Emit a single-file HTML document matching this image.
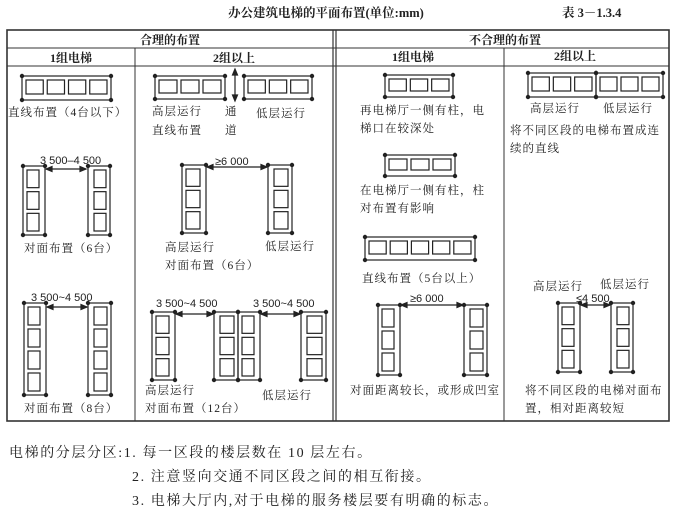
<!DOCTYPE html>
<html><head><meta charset="utf-8">
<style>
html,body{margin:0;padding:0;background:#fff;}
svg{display:block;}
text{font-family:"Liberation Serif","Noto Serif CJK SC","Noto Sans CJK SC",serif;fill:#222;}
.s{font-size:11.5px;letter-spacing:1px;}
.h{font-size:12px;font-weight:bold;}
.d{font-family:"Liberation Sans",sans-serif;font-size:11px;}
.b{font-size:14px;letter-spacing:1.6px;}
</style></head>
<body>
<svg id="g" width="678" height="521" viewBox="0 0 678 521" xmlns="http://www.w3.org/2000/svg">
<rect width="678" height="521" fill="#fff"/>
<text x="228" y="17" class="h" style="font-size:12.5px">办公建筑电梯的平面布置(单位:mm)</text>
<text x="562" y="17" style="font-size:12.5px;font-weight:bold">表 3－1.3.4</text>
<g stroke="#333" fill="none">
<rect x="7" y="30" width="662" height="391" stroke-width="1.6"/>
<line x1="333" y1="30" x2="333" y2="421" stroke-width="1.2"/>
<line x1="336" y1="30" x2="336" y2="421" stroke-width="1.2"/>
<line x1="7" y1="48" x2="669" y2="48"/>
<line x1="7" y1="66" x2="669" y2="66"/>
<line x1="135" y1="48" x2="135" y2="421"/>
<line x1="504" y1="48" x2="504" y2="421"/>
</g>
<text x="170" y="44" class="h" text-anchor="middle">合理的布置</text>
<text x="505" y="44" class="h" text-anchor="middle">不合理的布置</text>
<text x="71" y="62" class="h" text-anchor="middle">1组电梯</text>
<text x="234" y="62" class="h" text-anchor="middle">2组以上</text>
<text x="413" y="61" class="h" text-anchor="middle">1组电梯</text>
<text x="575" y="60" class="h" text-anchor="middle">2组以上</text>

<text x="8" y="116" class="s">直线布置（4台以下）</text>
<text x="152" y="115" class="s">高层运行</text>
<text x="152" y="134" class="s">直线布置</text>
<text x="225" y="115" class="s">通</text>
<text x="225" y="134" class="s">道</text>
<text x="256" y="117" class="s">低层运行</text>
<text x="40" y="164" class="d">3 500–4 500</text>
<text x="24" y="252" class="s">对面布置（6台）</text>
<text x="215" y="165" class="d">≥6 000</text>
<text x="165" y="251" class="s">高层运行</text>
<text x="265" y="250" class="s">低层运行</text>
<text x="165" y="269" class="s">对面布置（6台）</text>
<text x="31" y="301" class="d">3 500~4 500</text>
<text x="24" y="412" class="s">对面布置（8台）</text>
<text x="156" y="307" class="d">3 500~4 500</text>
<text x="253" y="307" class="d">3 500~4 500</text>
<text x="145" y="394" class="s">高层运行</text>
<text x="262" y="399" class="s">低层运行</text>
<text x="145" y="412" class="s">对面布置（12台）</text>

<text x="360" y="114" class="s">再电梯厅一侧有柱，电</text>
<text x="360" y="132" class="s">梯口在较深处</text>
<text x="360" y="194" class="s">在电梯厅一侧有柱，柱</text>
<text x="360" y="212" class="s">对布置有影响</text>
<text x="362" y="282" class="s">直线布置（5台以上）</text>
<text x="410" y="302" class="d">≥6 000</text>
<text x="350" y="394" class="s">对面距离较长，或形成凹室</text>
<text x="530" y="112" class="s">高层运行</text>
<text x="603" y="112" class="s">低层运行</text>
<text x="510" y="134" class="s">将不同区段的电梯布置成连</text>
<text x="510" y="152" class="s">续的直线</text>
<text x="533" y="290" class="s">高层运行</text>
<text x="600" y="288" class="s">低层运行</text>
<text x="576" y="302" class="d">≤4 500</text>
<text x="525" y="394" class="s">将不同区段的电梯对面布</text>
<text x="525" y="412" class="s">置，相对距离较短</text>

<text x="9" y="457" class="b">电梯的分层分区:1. 每一区段的楼层数在 10 层左右。</text>
<text x="132" y="481" class="b">2. 注意竖向交通不同区段之间的相互衔接。</text>
<text x="132" y="505" class="b">3. 电梯大厅内,对于电梯的服务楼层要有明确的标志。</text>
<g id="shapes" stroke="#222" fill="none" stroke-width="1.2"></g>
</svg>
<script>
var G=document.getElementById('shapes'),ns='http://www.w3.org/2000/svg',out='';
function r(x,y,w,h){out+='<rect x="'+x+'" y="'+y+'" width="'+w+'" height="'+h+'"/>';}
function l(a,b,c,d){out+='<line x1="'+a+'" y1="'+b+'" x2="'+c+'" y2="'+d+'"/>';}
function dot(x,y){out+='<circle cx="'+x+'" cy="'+y+'" r="1.6" fill="#222"/>';}
function hb(x,y,w,h,n){r(x,y,w,h);var cw=(w-4)/n;for(var i=0;i<n;i++){r(x+2+i*cw+2,y+4,cw-4,h-10);}
 dot(x,y);dot(x+w,y);dot(x,y+h);dot(x+w,y+h);}
function vb(x,y,w,h,n){r(x,y,w,h);var ch=(h-4)/n;for(var i=0;i<n;i++){r(x+4,y+2+i*ch+2,w-10,ch-4);}
 dot(x,y);dot(x+w,y);dot(x,y+h);dot(x+w,y+h);}
function vbr(x,y,w,h,n){r(x,y,w,h);var ch=(h-4)/n;for(var i=0;i<n;i++){r(x+6,y+2+i*ch+2,w-10,ch-4);}
 dot(x,y);dot(x+w,y);dot(x,y+h);dot(x+w,y+h);}
function ar(a,b,y){l(a,y,b,y);out+='<path d="M'+a+' '+y+'l6 -2.5v5z M'+b+' '+y+'l-6 -2.5v5z" fill="#222"/>';}
hb(22,76,89,24,4);
hb(155,76,70,23,3);hb(244,76,68,23,3);
l(235,70,235,100);out+='<path d="M235 69l-2.5 6h5z M235 101l-2.5 -6h5z" fill="#222"/>';
vb(23,166,22,69,3);vbr(88,166,22,69,3);ar(46,86,169);
vb(182,165,24,68,3);vbr(268,165,24,68,3);ar(207,267,167);
vb(24,303,22,92,4);vbr(88,303,23,92,4);ar(47,87,307);
vb(152,312,23,68,3);vbr(214,312,24,68,3);vb(238,312,22,68,3);vbr(301,312,25,68,3);
ar(176,213,314);ar(261,300,314);
hb(385,75,68,22,3);hb(385,155,70,21,3);hb(365,237,110,23,5);
vb(378,305,22,70,3);vbr(464,305,23,70,3);ar(401,463,305);
hb(528,73,68,24,3);hb(596,73,67,24,3);
vb(558,303,22,69,3);vbr(611,303,22,69,3);ar(581,610,305);
G.innerHTML=out;
</script>
</body></html>
